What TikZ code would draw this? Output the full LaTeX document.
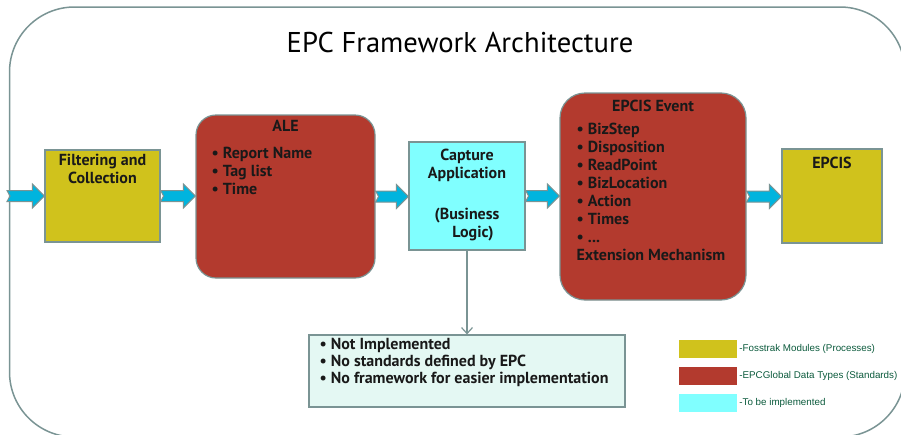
\documentclass[tikz,border=0pt]{standalone}
\usepackage{fontspec}
\setmainfont{PT Sans}
\newfontfamily\legendfont{Liberation Sans}
\usetikzlibrary{positioning,calc,arrows.meta}

\definecolor{fossyellow}{HTML}{D0C21C}
\definecolor{stdred}{HTML}{B33A2E}
\definecolor{todocyan}{HTML}{80FFFF}
\definecolor{notemint}{HTML}{E4F8F3}
\definecolor{edgegray}{HTML}{7A9494}
\definecolor{flowblue}{HTML}{00B4DE}
\definecolor{legendgreen}{HTML}{0B5A3C}

\tikzset{
  box/.style={draw=edgegray, line width=1.2pt, inner sep=0pt},
  boxtext/.style={font=\fontsize{16}{18}\selectfont\bfseries, inner sep=0pt, text=black!90},
  flowarrow/.style={draw=edgegray, fill=flowblue, line width=1pt, line join=miter},
  swatch/.style={minimum width=58pt, minimum height=18pt, inner sep=0pt},
  keytext/.style={font=\legendfont\fontsize{9.8}{11}\selectfont, text=legendgreen, inner sep=0pt}
}

% block arrow from #1 to the x of #2
\newcommand\flowconn[2]{%
  \path (#2 |- #1) coordinate (tip);
  \draw[flowarrow] ($(#1)+(0,-5.5)$) -- ($(tip)+(-12,-5.5)$) -- ($(tip)+(-12,-12)$)
    -- (tip) -- ($(tip)+(-12,12)$) -- ($(tip)+(-12,5.5)$) -- ($(#1)+(0,5.5)$)
    -- ($(#1)+(3,0)$) -- cycle;}

\begin{document}
\begin{tikzpicture}[x=1pt, y=-1pt]
  \useasboundingbox (0,0) rectangle (901,434);
  \begin{scope}
    \clip (0,0) rectangle (901,434);
    \draw[edgegray, line width=1.5pt, rounded corners=65pt] (9.5,7) rectangle (905,437);
  \end{scope}

  \node[font=\fontsize{28.6}{32}\selectfont, inner sep=0pt] (title) at (460,42) {EPC Framework Architecture};

  % main boxes
  \node[box, fill=fossyellow, minimum width=115pt, minimum height=92pt] (filt) at (102.5,196) {};
  \node[box, fill=stdred, rounded corners=20pt, minimum width=179pt, minimum height=163pt] (ale) at (285.5,196.5) {};
  \node[box, fill=todocyan, minimum width=116pt, minimum height=108pt] (cap) at (467,196) {};
  \node[box, fill=stdred, rounded corners=25pt, minimum width=186pt, minimum height=207pt] (event) at (653,196.5) {};
  \node[box, fill=fossyellow, minimum width=100pt, minimum height=94pt] (epcis) at (832,196) {};
  \node[box, fill=notemint, minimum width=316pt, minimum height=72pt] (note) at (467,371) {};

  % box texts
  \node[boxtext, align=center, anchor=north, below=5pt of filt.north] {Filtering and\\Collection};
  \node[boxtext, anchor=north, below=6pt of ale.north] {ALE};
  \node[boxtext, align=left, anchor=north west] at ($(ale.north west)+(16,33)$)
    {\textbullet\ Report Name\\\textbullet\ Tag list\\\textbullet\ Time};
  \node[boxtext, align=center, anchor=north, below=7pt of cap.north]
    {Capture\\Application\\[23pt](Business\\\hspace*{12pt}Logic)};
  \node[boxtext, anchor=north, below=7pt of event.north] {EPCIS Event};
  \node[boxtext, align=left, anchor=north west] at ($(event.north west)+(17,30)$)
    {\textbullet\ BizStep\\\textbullet\ Disposition\\\textbullet\ ReadPoint\\\textbullet\ BizLocation\\
     \textbullet\ Action\\\textbullet\ Times\\\textbullet\ ...\\Extension Mechanism};
  \node[boxtext, anchor=north, below=8pt of epcis.north] {EPCIS};
  \node[boxtext, font=\fontsize{16}{17}\selectfont\bfseries, align=left, anchor=north west] at ($(note.north west)+(11,4)$)
    {\textbullet\ Not Implemented\\\textbullet\ No standards defined by EPC\\\textbullet\ No framework for easier implementation};

  % flow
  \coordinate (src) at (7,196);
  \flowconn{src}{filt.west}
  \flowconn{filt.east}{ale.west}
  \flowconn{ale.east}{cap.west}
  \flowconn{cap.east}{event.west}
  \flowconn{event.east}{epcis.west}
  \draw[edgegray, line width=1.2pt, -{Straight Barb[length=6pt, width=11pt]}] (cap.south) -- (note.north);

  % legend
  \node[swatch, fill=fossyellow] (keyfoss) at (708,349) {};
  \node[swatch, fill=stdred] (keystd) at (708,375.5) {};
  \node[swatch, fill=todocyan] (keytodo) at (708,402.5) {};
  \node[keytext, anchor=west, right=2pt of keyfoss] {-Fosstrak Modules (Processes)};
  \node[keytext, anchor=west, right=2pt of keystd] {-EPCGlobal Data Types (Standards)};
  \node[keytext, anchor=west, right=2pt of keytodo] {-To be implemented};
\end{tikzpicture}
\end{document}
